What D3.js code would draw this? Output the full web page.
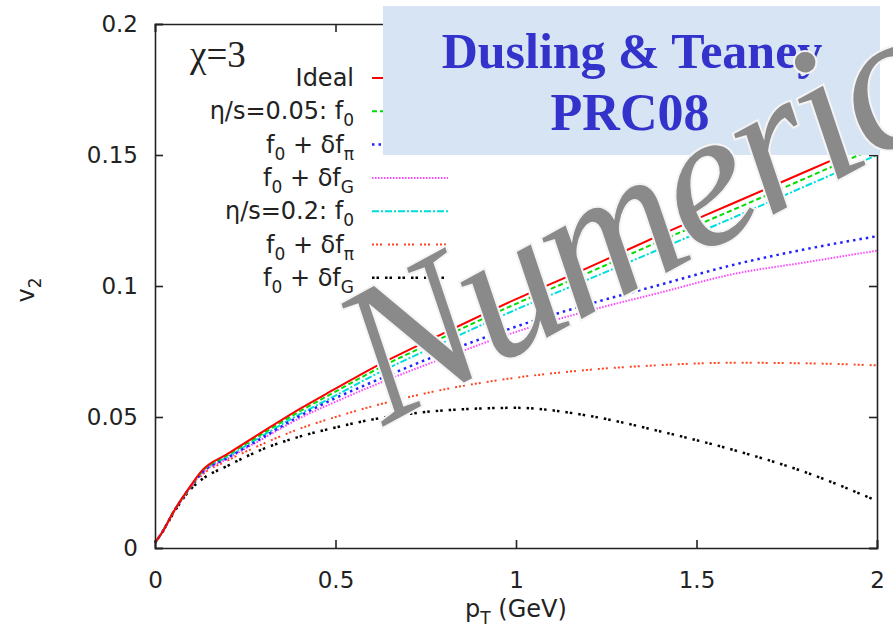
<!DOCTYPE html>
<html>
<head>
<meta charset="utf-8">
<script src="https://cdn.jsdelivr.net/npm/d3@7"></script>
<style>
  body { margin: 0; background: #fff; }
</style>
</head>
<body>
<svg id="chart" width="893" height="633" font-family="DejaVu Sans, Arial, sans-serif"></svg>
<script>
// pT grid (GeV) shared by all curves
var pT = [0, 0.02, 0.05, 0.1, 0.13, 0.2, 0.3, 0.4, 0.5, 0.6, 0.8, 1.0, 1.2, 1.4, 1.6, 1.8, 2.0];

// v2 values
var ideal   = [0.002, 0.006, 0.0135, 0.0240, 0.0295, 0.0358, 0.0445, 0.053, 0.0608, 0.0685, 0.082, 0.095, 0.107, 0.1195, 0.1315, 0.1435, 0.1555];
var eta05f0 = [0.002, 0.006, 0.0135, 0.0238, 0.0292, 0.0353, 0.0438, 0.0521, 0.0597, 0.0672, 0.0805, 0.0932, 0.1050, 0.1172, 0.1290, 0.1410, 0.1530];
var eta05pi = [0.002, 0.006, 0.0135, 0.0236, 0.0287, 0.0343, 0.0423, 0.0503, 0.0572, 0.0632, 0.0745, 0.0845, 0.0930, 0.1005, 0.1080, 0.1140, 0.1190];
var eta05G  = [0.002, 0.006, 0.0135, 0.0235, 0.0285, 0.0340, 0.0418, 0.0495, 0.0558, 0.0617, 0.0725, 0.0825, 0.0905, 0.0975, 0.1045, 0.1090, 0.1135];
var eta2f0  = [0.002, 0.006, 0.0135, 0.0236, 0.0289, 0.0347, 0.0430, 0.0510, 0.0582, 0.0655, 0.0785, 0.0910, 0.1025, 0.1142, 0.1260, 0.1380, 0.1500];
var eta2pi  = [0.002, 0.006, 0.0133, 0.0232, 0.0278, 0.0333, 0.0398, 0.0455, 0.0500, 0.0540, 0.0605, 0.0650, 0.0680, 0.0698, 0.0707, 0.0705, 0.0697];
var eta2G   = [0.002, 0.006, 0.0130, 0.0226, 0.0262, 0.0313, 0.0378, 0.0425, 0.0460, 0.0490, 0.0525, 0.0535, 0.0505, 0.0445, 0.0375, 0.0290, 0.0180];

var xTicks = [0, 0.5, 1, 1.5, 2];
var yTicks = [0, 0.05, 0.1, 0.15, 0.2];

var series = [
  {values: ideal,   color: "#ff0000", dash: null,          width: 2},
  {values: eta05f0, color: "#00dd00", dash: "5,3",         width: 2},
  {values: eta05pi, color: "#2222ff", dash: "2.5,4",       width: 2.5},
  {values: eta05G,  color: "#ff44ff", dash: "1.5,1.5",     width: 2},
  {values: eta2f0,  color: "#00dddd", dash: "7,2,2,2",     width: 2},
  {values: eta2pi,  color: "#ff4422", dash: "2,2,2,2,2,6", width: 2},
  {values: eta2G,   color: "#000000", dash: "2.5,2,2.5,6", width: 2.5}
];

var svg = d3.select("#chart");
var margin = {left: 155, right: 16, top: 24, bottom: 85};
var W = 893, H = 633;
var serif = "Liberation Serif, Times New Roman, serif";

var x = d3.scaleLinear().domain([0, 2]).range([margin.left, W - margin.right]);
var y = d3.scaleLinear().domain([0, 0.2]).range([H - margin.bottom, margin.top]);

// curves
var line = d3.line().x(function(d) { return x(d[0]); }).y(function(d) { return y(d[1]); })
    .curve(d3.curveMonotoneX);

svg.append("g").selectAll("path")
    .data(series.slice().reverse())
  .enter().append("path")
    .attr("fill", "none")
    .attr("stroke", function(d) { return d.color; })
    .attr("stroke-width", function(d) { return d.width; })
    .attr("stroke-dasharray", function(d) { return d.dash; })
    .attr("d", function(d) { return line(d.values.map(function(v, i) { return [pT[i], v]; })); });

// axes, ticks pointing inward on all four sides
var fmt = d3.format("");
var gx = svg.append("g").attr("transform", "translate(0," + y(0) + ")")
    .call(d3.axisBottom(x).tickValues(xTicks).tickFormat(fmt).tickSize(-8).tickPadding(24));
var gx2 = svg.append("g").attr("transform", "translate(0," + y(0.2) + ")")
    .call(d3.axisTop(x).tickValues(xTicks).tickFormat("").tickSize(-8));
var gy = svg.append("g").attr("transform", "translate(" + x(0) + ",0)")
    .call(d3.axisLeft(y).tickValues(yTicks).tickFormat(fmt).tickSize(-8).tickPadding(17));
var gy2 = svg.append("g").attr("transform", "translate(" + x(2) + ",0)")
    .call(d3.axisRight(y).tickValues(yTicks).tickFormat("").tickSize(-8));

[gx, gx2, gy, gy2].forEach(function(g) {
  g.select(".domain").attr("stroke", "#222").attr("stroke-width", 1.6);
  g.selectAll(".tick line").attr("stroke", "#222").attr("stroke-width", 1.6);
  g.selectAll(".tick text").attr("font-size", 23).attr("fill", "#222")
    .attr("font-family", "DejaVu Sans, Arial, sans-serif");
});

// axis titles
var xt = svg.append("text").attr("x", 516).attr("y", 617).attr("text-anchor", "middle")
    .attr("font-size", 24).attr("fill", "#222");
xt.append("tspan").text("p");
xt.append("tspan").attr("font-size", 17).attr("dy", 7).text("T");
xt.append("tspan").attr("dy", -7).text(" (GeV)");

var yt = svg.append("text").attr("transform", "translate(34,290) rotate(-90)")
    .attr("text-anchor", "middle").attr("font-size", 24).attr("fill", "#222");
yt.append("tspan").text("v");
yt.append("tspan").attr("font-size", 17).attr("dy", 7).text("2");

// chi label
svg.append("text").attr("x", 190).attr("y", 67)
    .attr("font-family", serif).attr("font-size", 37).attr("fill", "#222").text("\u03C7=3");

// legend
var legendRows = [
  [["Ideal", 0]],
  [["\u03B7/s=0.05: f", 0], ["0", 1]],
  [["f", 0], ["0", 1], [" + \u03B4f", 0], ["\u03C0", 1]],
  [["f", 0], ["0", 1], [" + \u03B4f", 0], ["G", 1]],
  [["\u03B7/s=0.2: f", 0], ["0", 1]],
  [["f", 0], ["0", 1], [" + \u03B4f", 0], ["\u03C0", 1]],
  [["f", 0], ["0", 1], [" + \u03B4f", 0], ["G", 1]]
];
var leg = svg.append("g");
legendRows.forEach(function(parts, i) {
  var yy = 78 + i * 33.3;
  var t = leg.append("text").attr("x", 354).attr("y", yy + 8).attr("text-anchor", "end")
      .attr("font-size", 24).attr("fill", "#222");
  var sub = false;
  parts.forEach(function(p) {
    var ts = t.append("tspan").text(p[0]);
    if (p[1] && !sub) { ts.attr("font-size", 17).attr("dy", 7); sub = true; }
    else if (!p[1] && sub) { ts.attr("dy", -7); sub = false; }
  });
  var s = series[i];
  leg.append("line").attr("x1", 372).attr("x2", 448).attr("y1", yy).attr("y2", yy)
      .attr("stroke", s.color).attr("stroke-width", s.width).attr("stroke-dasharray", s.dash);
});

// overlay box
svg.append("rect").attr("x", 383).attr("y", 6).attr("width", 497).attr("height", 149)
    .attr("fill", "#d6e4f3");
svg.append("text").attr("x", 632).attr("y", 68).attr("text-anchor", "middle")
    .attr("font-family", serif).attr("font-weight", "bold")
    .attr("font-size", 50).attr("fill", "#3333cc").text("Dusling & Teaney");
svg.append("text").attr("x", 630).attr("y", 130).attr("text-anchor", "middle")
    .attr("font-family", serif).attr("font-weight", "bold")
    .attr("font-size", 52).attr("fill", "#3333cc").text("PRC08");

// watermark
svg.append("text").attr("transform", "translate(384,426) rotate(-28.5)")
    .attr("font-family", serif).attr("font-style", "italic").attr("letter-spacing", -5)
    .attr("font-size", 195).attr("fill", "#8a8a8a").attr("stroke", "#f4f4f4").attr("stroke-width", 4)
    .style("paint-order", "stroke").text("Numeric");
</script>
</body>
</html>
